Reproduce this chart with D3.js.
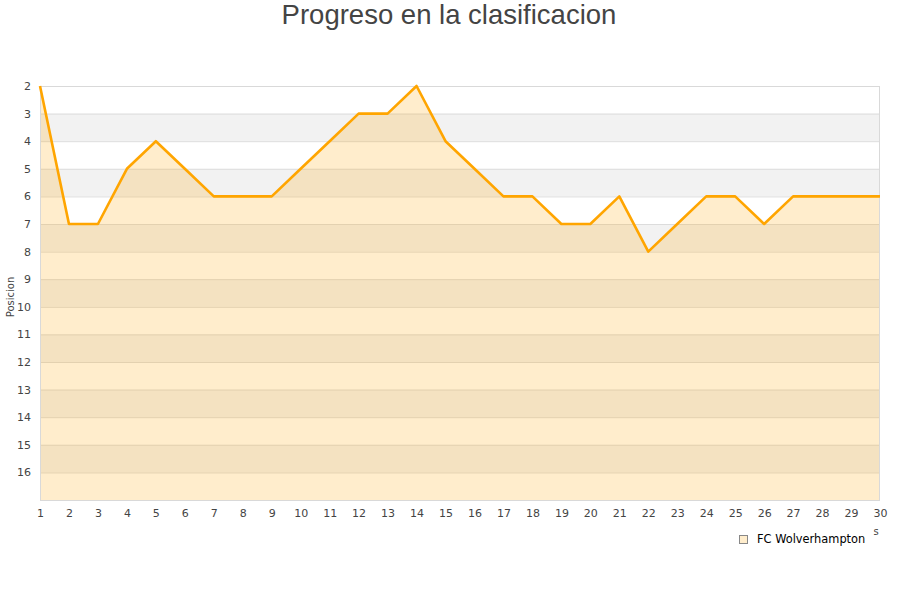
<!DOCTYPE html>
<html>
<head>
<meta charset="utf-8">
<script src="https://cdn.jsdelivr.net/npm/d3@7"></script>
<style>
  body { margin: 0; background: #fff; }
  svg { display: block; }
</style>
</head>
<body>
<div class="chart"></div>
<script>
// data
const jornadas = d3.range(1, 31);
const posiciones = [2, 7, 7, 5, 4, 5, 6, 6, 6, 5, 4, 3, 3, 2, 4, 5, 6, 6, 7, 7, 6, 8, 7, 6, 6, 7, 6, 6, 6, 6];
const yTicks = d3.range(2, 17);
const equipo = "FC Wolverhampton";
const titulo = "Progreso en la clasificacion";

var svg = d3.select(".chart")
            .append("svg")
            .attr("width", 900)
            .attr("height", 600);

const plotL = 40, plotR = 880, plotT = 86, plotB = 500;

var x = d3.scaleLinear().domain([1, 30]).range([plotL, plotR]);
var y = d3.scaleLinear().domain([2, 17]).range([plotT, plotB]);

//** bands */
const bandas = d3.range(2, 17);
svg.selectAll("rect.band").data(bandas).enter().append("rect")
  .attr("class", "band")
  .attr("x", plotL)
  .attr("width", plotR - plotL)
  .attr("y", d => y(d))
  .attr("height", d => y(d + 1) - y(d))
  .attr("fill", d => (d % 2 === 1) ? "#f2f2f2" : "#ffffff");

//** grid */
svg.selectAll("line.grid").data(yTicks).enter().append("line")
  .attr("x1", plotL).attr("x2", plotR)
  .attr("y1", d => y(d) + 0.5).attr("y2", d => y(d) + 0.5)
  .attr("stroke", "#dcdcdc")
  .attr("stroke-width", 1);

//** area + line */
const puntos = jornadas.map((j, i) => [j, posiciones[i]]);

svg.append("path").datum(puntos)
  .attr("d", d3.area().x(d => x(d[0])).y0(plotB).y1(d => y(d[1])))
  .attr("fill", "rgb(255,165,0)")
  .attr("fill-opacity", 0.2);

// plot border
svg.append("rect")
  .attr("x", plotL + 0.5).attr("y", plotT + 0.5)
  .attr("width", plotR - plotL - 1).attr("height", plotB - plotT)
  .attr("fill", "none")
  .attr("stroke", "#d9d9d9");

svg.append("path").datum(puntos)
  .attr("d", d3.line().x(d => x(d[0])).y(d => y(d[1])))
  .attr("fill", "none")
  .attr("stroke", "#ffa500")
  .attr("stroke-width", 2.6)
  .attr("stroke-linejoin", "round");

//** axes */
svg.append("g")
  .attr("transform", `translate(0,${plotB})`)
  .call(d3.axisBottom(x).tickValues(jornadas).tickFormat(d3.format("d")).tickSize(0).tickPadding(9))
  .call(g => g.select(".domain").remove())
  .selectAll("text")
  .attr("font-family", "DejaVu Sans")
  .attr("font-size", 11)
  .attr("fill", "#444");

svg.append("g")
  .attr("transform", `translate(${plotL},0)`)
  .call(d3.axisLeft(y).tickValues(yTicks).tickFormat(d3.format("d")).tickSize(0).tickPadding(9))
  .call(g => g.select(".domain").remove())
  .selectAll("text")
  .attr("font-family", "DejaVu Sans")
  .attr("font-size", 11)
  .attr("fill", "#444");

//** texts */
svg.append("text")
  .attr("x", 449).attr("y", 24)
  .attr("text-anchor", "middle")
  .attr("font-family", "Liberation Sans")
  .attr("font-size", 27.5)
  .attr("fill", "#444")
  .text(titulo);

svg.append("text")
  .attr("transform", "translate(14,297) rotate(-90)")
  .attr("text-anchor", "middle")
  .attr("font-family", "DejaVu Sans")
  .attr("font-size", 10)
  .attr("fill", "#444")
  .text("Posicion");

// clipped x axis title remnant
svg.append("text")
  .attr("x", 876).attr("y", 535)
  .attr("text-anchor", "middle")
  .attr("font-family", "DejaVu Sans")
  .attr("font-size", 10)
  .attr("fill", "#444")
  .text("s");

//** legend */
svg.append("rect")
  .attr("x", 739.5).attr("y", 535.5)
  .attr("width", 8).attr("height", 8)
  .attr("fill", "#ffedcc")
  .attr("stroke", "#888");

svg.append("text")
  .attr("x", 757).attr("y", 543)
  .attr("font-family", "DejaVu Sans")
  .attr("font-size", 11.4)
  .attr("fill", "#000")
  .text(equipo);
</script>
</body>
</html>
